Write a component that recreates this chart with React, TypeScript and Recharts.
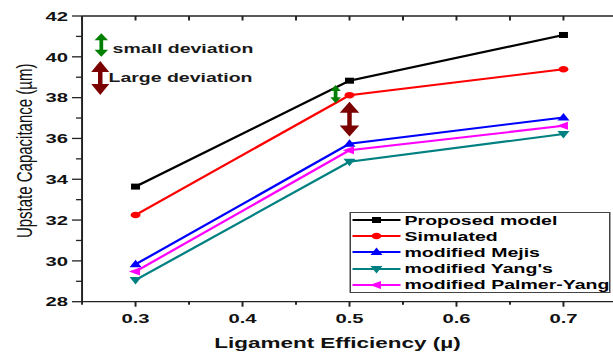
import React from 'react';
import { LineChart, Line, XAxis, YAxis, Legend, ReferenceLine } from 'recharts';

// efficiency values on the x axis
const X_VALUES = [0.3, 0.5, 0.7];

// upstate capacitance per model
const PROPOSED = [33.64, 38.83, 41.07];
const SIMULATED = [32.25, 38.12, 39.39];
const MEJIS = [29.83, 35.74, 37.03];
const YANG = [29.06, 34.86, 36.22];
const PALMER = [29.48, 35.42, 36.62];

const X_TICKS = [0.25, 0.3, 0.35, 0.4, 0.45, 0.5, 0.55, 0.6, 0.65, 0.7, 0.75];
const Y_TICKS = [28, 29, 30, 31, 32, 33, 34, 35, 36, 37, 38, 39, 40, 41, 42];
const RIGHT_TICKS = [0, 1, 2, 3, 4, 5, 6, 7, 8, 9, 10];

const SERIES = [
  { key: 'proposed', name: 'Proposed model', color: '#000000', shape: 'square', values: PROPOSED },
  { key: 'simulated', name: 'Simulated', color: '#ff0000', shape: 'circle', values: SIMULATED },
  { key: 'mejis', name: 'modified Mejis', color: '#0000ff', shape: 'up', values: MEJIS },
  { key: 'yang', name: "modified Yang's", color: '#008080', shape: 'down', values: YANG },
  { key: 'palmer', name: 'modified Palmer-Yang', color: '#ff00ff', shape: 'left', values: PALMER },
];

// double arrows drawn on the plot (data coordinates)
const ANNOTATIONS = [
  { x: 0.268, from: 41.15, to: 40.0, color: '#008000', headLen: 7, headW: 9, shaft: 2.5, text: 'small deviation', dx: 7.5, dy: 8 },
  { x: 0.267, from: 39.8, to: 38.13, color: '#7b0000', headLen: 11, headW: 12, shaft: 3, text: 'Large deviation', dx: 5.5, dy: 4 },
  { x: 0.487, from: 38.62, to: 37.72, color: '#008000', headLen: 6, headW: 7, shaft: 2.5 },
  { x: 0.5, from: 37.8, to: 36.09, color: '#7b0000', headLen: 11, headW: 13, shaft: 3 },
];

const data = X_VALUES.map((x, i) => {
  const row: Record<string, number> = { x };
  SERIES.forEach((s) => { row[s.key] = s.values[i]; });
  return row;
});

const FONT = '"Liberation Sans", Arial, sans-serif';
const AXIS = '#222';
const STRETCH = 1.5;
const W = 420;
const H = 355;
// axes take 1px each, so margins are 1px short of the plot edges
const MARGIN = { top: 15, right: 7.7, bottom: 52.3, left: 53.7 };

const Marker = ({ cx, cy, color, shape }: any) => {
  if (cx == null || cy == null) return null;
  if (shape === 'square') return <rect x={cx - 3} y={cy - 3} width={6} height={6} fill={color} />;
  if (shape === 'circle') return <circle cx={cx} cy={cy} r={3.3} fill={color} />;
  let pts = '';
  if (shape === 'up') pts = `${cx},${cy - 4.5} ${cx - 4},${cy + 3} ${cx + 4},${cy + 3}`;
  if (shape === 'down') pts = `${cx},${cy + 4.5} ${cx - 4},${cy - 3} ${cx + 4},${cy - 3}`;
  if (shape === 'left') pts = `${cx - 4.5},${cy} ${cx + 3},${cy - 4} ${cx + 3},${cy + 4}`;
  return <polygon points={pts} fill={color} />;
};

const isMajorX = (v: number) => Math.round(v * 100) % 10 === 0;

const BottomTick = ({ x, y, payload }: any) => {
  const v = payload.value;
  const major = isMajorX(v);
  return (
    <g>
      <line x1={x} x2={x} y1={y} y2={y + (major ? 5 : 3)} stroke={AXIS} strokeWidth={1.3} />
      {major && (
        <text x={x} y={y + 21} textAnchor="middle" fontFamily={FONT} fontWeight="bold" fontSize={13.5} fill="#111">
          {v.toFixed(1)}
        </text>
      )}
    </g>
  );
};

const TopTick = ({ x, y }: any) => (
  <line x1={x} x2={x} y1={y} y2={y + 4.5} stroke={AXIS} strokeWidth={1.3} />
);

const LeftTick = ({ x, y, payload }: any) => {
  const v = payload.value;
  const major = v % 2 === 0;
  return (
    <g>
      <line x1={x - (major ? 6.7 : 4)} x2={x} y1={y} y2={y} stroke={AXIS} strokeWidth={1.3} />
      {major && (
        <text x={x - 9.4} y={y + 4.8} textAnchor="end" fontFamily={FONT} fontWeight="bold" fontSize={13.5} fill="#111">
          {v}
        </text>
      )}
    </g>
  );
};

const RightTick = ({ x, y, payload }: any) => {
  const major = payload.value % 2 === 0;
  return <line x1={x - (major ? 6.3 : 4)} x2={x} y1={y} y2={y} stroke={AXIS} strokeWidth={1.3} />;
};

const arrowShape = (a: any) => (p: any) => {
  const { x1, y1, x2, y2 } = p;
  if (x1 == null) return null;
  const top = Math.min(y1, y2);
  const bot = Math.max(y1, y2);
  const x = x1;
  const hw = a.headW / 2;
  return (
    <g>
      <line x1={x} x2={x} y1={top + a.headLen - 1} y2={bot - a.headLen + 1} stroke={a.color} strokeWidth={a.shaft} />
      <polygon points={`${x},${top} ${x - hw},${top + a.headLen} ${x + hw},${top + a.headLen}`} fill={a.color} />
      <polygon points={`${x},${bot} ${x - hw},${bot - a.headLen} ${x + hw},${bot - a.headLen}`} fill={a.color} />
      {a.text && (
        <text x={x + a.dx} y={(top + bot) / 2 + a.dy} fontFamily={FONT} fontWeight="bold" fontSize={13} fill="#1a1a1a">
          {a.text}
        </text>
      )}
    </g>
  );
};

const LegendBox = () => (
  <div
    style={{
      width: 174,
      height: 81,
      boxSizing: 'border-box',
      border: '1px solid #444',
      background: '#fff',
      fontFamily: FONT,
      fontWeight: 'bold',
      fontSize: 13,
      color: '#000',
    }}
  >
    {SERIES.map((s, i) => (
      <div key={s.key} style={{ height: 16.2, display: 'flex', alignItems: 'center', marginTop: i === 0 ? -1 : 0, whiteSpace: 'nowrap' }}>
        <svg width={35} height={16} style={{ flex: 'none' }}>
          <line x1={1} x2={33} y1={8} y2={8} stroke={s.color} strokeWidth={2} />
          <Marker cx={17} cy={8} color={s.color} shape={s.shape} />
        </svg>
        <span style={{ marginLeft: 1 }}>{s.name}</span>
      </div>
    ))}
  </div>
);

const App: React.FC = () => {
  return (
    <div style={{ position: 'absolute', left: 0, top: 0, width: 613, height: 355, overflow: 'hidden', background: '#fff' }}>
      <div style={{ width: W, height: H, transform: `scaleX(${STRETCH})`, transformOrigin: '0 0' }}>
        <LineChart width={W} height={H} data={data} margin={MARGIN}>
          <XAxis
            dataKey="x"
            type="number"
            domain={[0.25, 0.75]}
            ticks={X_TICKS}
            interval={0}
            height={1}
            tickSize={0}
            tickMargin={0}
            tickLine={false}
            tick={BottomTick}
            axisLine={{ stroke: AXIS, strokeWidth: 1.3 }}
            label={(p: any) => {
              const vb = p.viewBox || {};
              return (
                <text x={vb.x + vb.width / 2 - 8} y={vb.y + 46} textAnchor="middle" fontFamily={FONT} fontWeight="bold" fontSize={15} fill="#111">
                  Ligament Efficiency (µ)
                </text>
              );
            }}
          />
          <XAxis
            xAxisId="top"
            orientation="top"
            dataKey="x"
            type="number"
            domain={[0.25, 0.75]}
            ticks={X_TICKS}
            interval={0}
            height={1}
            tickSize={0}
            tickMargin={0}
            tickLine={false}
            tick={TopTick}
            axisLine={{ stroke: AXIS, strokeWidth: 1.3 }}
          />
          <YAxis
            type="number"
            domain={[28, 42]}
            ticks={Y_TICKS}
            interval={0}
            width={1}
            tickSize={0}
            tickMargin={0}
            tickLine={false}
            tick={LeftTick}
            axisLine={{ stroke: AXIS, strokeWidth: 1.3 }}
            label={(p: any) => {
              const vb = p.viewBox || {};
              const lx = vb.x + vb.width - 38.7;
              const ly = vb.y + vb.height / 2 - 8;
              return (
                <text x={lx} y={ly} transform={`rotate(-90, ${lx}, ${ly})`} textAnchor="middle" dominantBaseline="central" fontFamily={FONT} fontSize={15} fill="#111">
                  Upstate Capacitance (µm)
                </text>
              );
            }}
          />
          <YAxis
            yAxisId="right"
            orientation="right"
            type="number"
            domain={[0, 10]}
            ticks={RIGHT_TICKS}
            interval={0}
            width={1}
            tickSize={0}
            tickMargin={0}
            tickLine={false}
            tick={RightTick}
            axisLine={{ stroke: AXIS, strokeWidth: 1.3 }}
          />
          {SERIES.map((s) => (
            <Line
              key={s.key}
              dataKey={s.key}
              name={s.name}
              stroke={s.color}
              strokeWidth={2}
              isAnimationActive={false}
              dot={(p: any) => <Marker key={`${s.key}-${p.index}`} cx={p.cx} cy={p.cy} color={s.color} shape={s.shape} />}
              activeDot={false}
            />
          ))}
          {ANNOTATIONS.map((a, i) => (
            <ReferenceLine
              key={`ann-${i}`}
              segment={[{ x: a.x, y: a.from }, { x: a.x, y: a.to }]}
              shape={arrowShape(a)}
            />
          ))}
          <Legend
            layout="vertical"
            align="center"
            verticalAlign="middle"
            wrapperStyle={{ position: 'absolute', left: 232.7, top: 212, width: 174, height: 81 }}
            content={LegendBox}
          />
        </LineChart>
      </div>
    </div>
  );
};

export default App;
